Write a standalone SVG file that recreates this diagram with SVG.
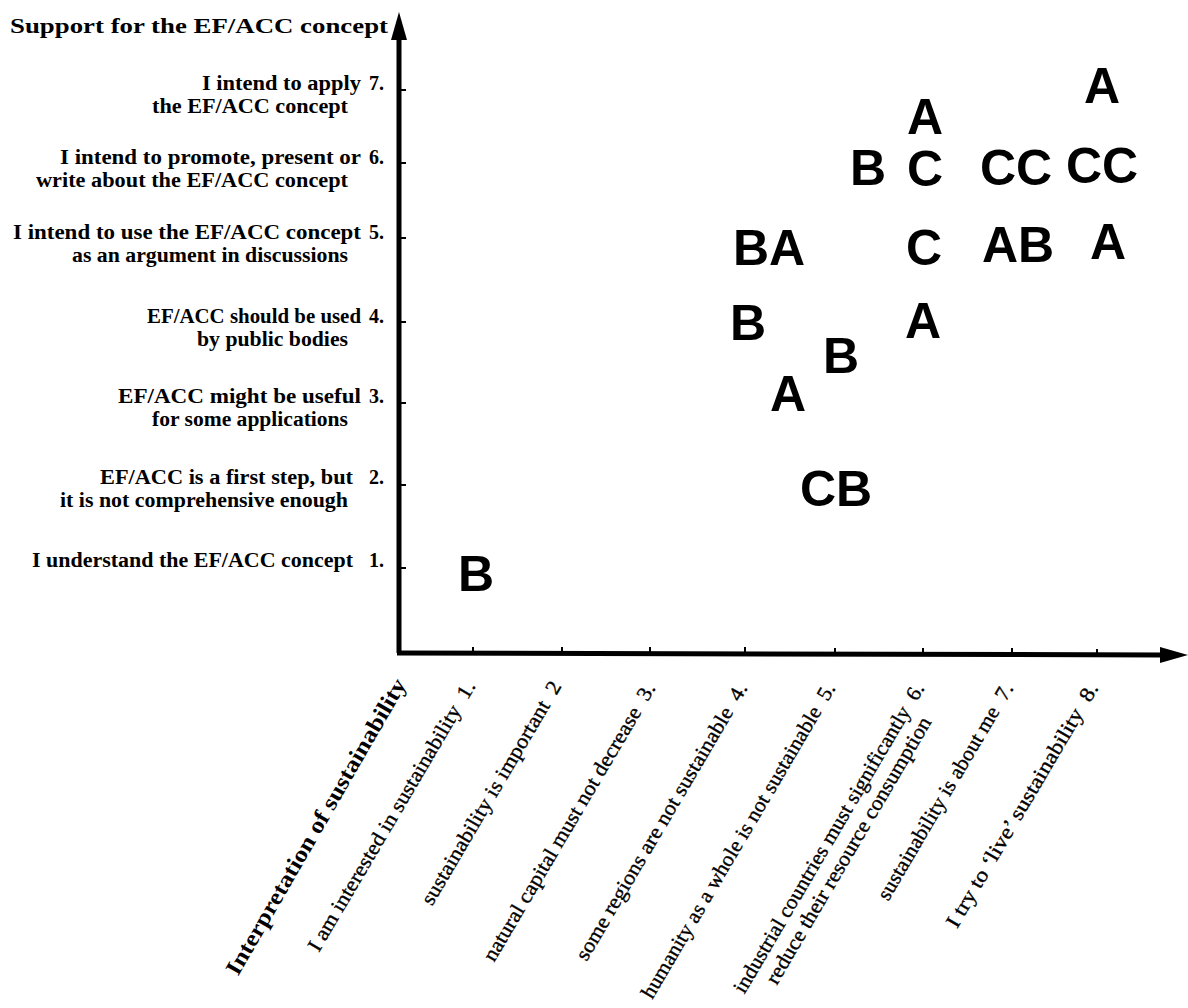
<svg xmlns="http://www.w3.org/2000/svg" width="1188" height="1008" viewBox="0 0 1188 1008">
<style>
.lab{font-family:"Liberation Serif","Times New Roman",serif;font-weight:bold;font-size:20px;fill:#000}
.end{text-anchor:end}
.title{font-size:22px}
.xl{font-family:"Liberation Serif","Times New Roman",serif;font-size:21px;fill:#000;stroke:#000;stroke-width:0.35;text-anchor:end;white-space:pre}
.xt{font-weight:bold;font-size:23px;stroke-width:0}
.pt{font-family:"Liberation Sans",Arial,sans-serif;font-weight:bold;font-size:50px;text-anchor:middle;fill:#000}
.axis{stroke:#000;stroke-width:5;fill:none}
.tick{stroke:#000;stroke-width:2;fill:none}
</style>
<defs>
<marker id="arr" markerUnits="userSpaceOnUse" markerWidth="30" markerHeight="16" refX="2" refY="8" orient="auto">
<path d="M0,0 L28,8 L0,16 Z" fill="#000"/>
</marker>
</defs>
<rect width="1188" height="1008" fill="#fff"/>

<g id="connectors">
<path class="axis" d="M399,653 L399,38" marker-end="url(#arr)"/>
<path class="axis" d="M397,653 L1162,655" marker-end="url(#arr)"/>
<path class="tick" d="M401,90 h5 M401,163 h5 M401,238 h5 M401,322 h5 M401,403 h5 M401,485 h5 M401,568 h5"/>
<path class="tick" d="M473,653 v-6 M562,653 v-6 M650,653 v-6 M745,653 v-6 M835,654 v-6 M923,654 v-6 M1012,654 v-6 M1097,655 v-6"/>
</g>

<g id="y-axis-labels">
<text class="lab title" x="10" y="33" textLength="378" lengthAdjust="spacingAndGlyphs">Support for the EF/ACC concept</text>
<text class="lab end" x="361" y="90" textLength="159" lengthAdjust="spacingAndGlyphs">I intend to apply</text>
<text class="lab" x="369" y="90">7.</text>
<text class="lab end" x="348" y="113" textLength="196" lengthAdjust="spacingAndGlyphs">the EF/ACC concept</text>
<text class="lab end" x="361" y="164" textLength="301" lengthAdjust="spacingAndGlyphs">I intend to promote, present or</text>
<text class="lab" x="369" y="164">6.</text>
<text class="lab end" x="348" y="187" textLength="312" lengthAdjust="spacingAndGlyphs">write about the EF/ACC concept</text>
<text class="lab end" x="361" y="239" textLength="348" lengthAdjust="spacingAndGlyphs">I intend to use the EF/ACC concept</text>
<text class="lab" x="369" y="239">5.</text>
<text class="lab end" x="348" y="262" textLength="276" lengthAdjust="spacingAndGlyphs">as an argument in discussions</text>
<text class="lab end" x="361" y="323" textLength="214" lengthAdjust="spacingAndGlyphs">EF/ACC should be used</text>
<text class="lab" x="369" y="323">4.</text>
<text class="lab end" x="348" y="346" textLength="151" lengthAdjust="spacingAndGlyphs">by public bodies</text>
<text class="lab end" x="361" y="403" textLength="243" lengthAdjust="spacingAndGlyphs">EF/ACC might be useful</text>
<text class="lab" x="369" y="403">3.</text>
<text class="lab end" x="348" y="426" textLength="196" lengthAdjust="spacingAndGlyphs">for some applications</text>
<text class="lab end" x="353" y="484" textLength="253" lengthAdjust="spacingAndGlyphs">EF/ACC is a first step, but</text>
<text class="lab" x="369" y="484">2.</text>
<text class="lab end" x="348" y="507" textLength="288" lengthAdjust="spacingAndGlyphs">it is not comprehensive enough</text>
<text class="lab end" x="353" y="567" textLength="321" lengthAdjust="spacingAndGlyphs">I understand the EF/ACC concept</text>
<text class="lab" x="369" y="567">1.</text>
</g>

<g id="x-axis-labels">
<text class="xl xt" xml:space="preserve" transform="translate(407,684) rotate(-60)" textLength="338" lengthAdjust="spacingAndGlyphs">Interpretation of sustainability</text>
<text class="xl" xml:space="preserve" transform="translate(476,686) rotate(-59.5)" textLength="310" lengthAdjust="spacingAndGlyphs">I am interested in sustainability  1.</text>
<text class="xl" xml:space="preserve" transform="translate(562,686) rotate(-59.5)" textLength="256" lengthAdjust="spacingAndGlyphs">sustainability is important  2</text>
<text class="xl" xml:space="preserve" transform="translate(656,688) rotate(-59.5)" textLength="319" lengthAdjust="spacingAndGlyphs">natural capital must not decrease  3.</text>
<text class="xl" xml:space="preserve" transform="translate(748,688) rotate(-59.5)" textLength="318" lengthAdjust="spacingAndGlyphs">some regions are not sustainable  4.</text>
<text class="xl" xml:space="preserve" transform="translate(836,688) rotate(-59.5)" textLength="362" lengthAdjust="spacingAndGlyphs">humanity as a whole is not sustainable  5.</text>
<text class="xl" xml:space="preserve" transform="translate(925,688) rotate(-59.5)" textLength="356" lengthAdjust="spacingAndGlyphs">industrial countries must significantly  6.</text>
<text class="xl" xml:space="preserve" transform="translate(932,722) rotate(-59.5)" textLength="306" lengthAdjust="spacingAndGlyphs">reduce their resource consumption</text>
<text class="xl" xml:space="preserve" transform="translate(1014,688) rotate(-59.5)" textLength="248" lengthAdjust="spacingAndGlyphs">sustainability is about me  7.</text>
<text class="xl" xml:space="preserve" transform="translate(1099,688) rotate(-59.5)" textLength="280" lengthAdjust="spacingAndGlyphs">I try to ‘live’ sustainability  8.</text>
</g>

<g id="p1"><text class="pt" x="1102" y="103">A</text></g>
<g id="p2"><text class="pt" x="925" y="134">A</text></g>
<g id="p3"><text class="pt" x="868" y="185">B</text></g>
<g id="p4"><text class="pt" x="925" y="186">C</text></g>
<g id="p5"><text class="pt" x="1016" y="185">CC</text></g>
<g id="p6"><text class="pt" x="1102" y="183">CC</text></g>
<g id="p7"><text class="pt" x="769" y="265">BA</text></g>
<g id="p8"><text class="pt" x="924" y="265">C</text></g>
<g id="p9"><text class="pt" x="1018" y="262">AB</text></g>
<g id="p10"><text class="pt" x="1108" y="259">A</text></g>
<g id="p11"><text class="pt" x="748" y="340">B</text></g>
<g id="p12"><text class="pt" x="923" y="338">A</text></g>
<g id="p13"><text class="pt" x="841" y="373">B</text></g>
<g id="p14"><text class="pt" x="788" y="411">A</text></g>
<g id="p15"><text class="pt" x="836" y="506">CB</text></g>
<g id="p16"><text class="pt" x="476" y="591">B</text></g>
</svg>
